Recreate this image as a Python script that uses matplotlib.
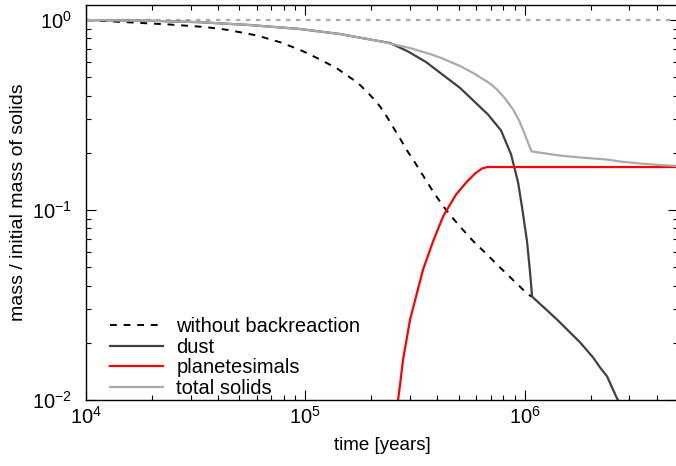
import numpy as np
import matplotlib.pyplot as plt
from matplotlib.ticker import LogLocator, FuncFormatter, NullFormatter

plt.rcParams['font.family'] = ['Liberation Sans', 'DejaVu Sans']
plt.rcParams['mathtext.fontset'] = 'custom'
plt.rcParams['mathtext.rm'] = 'Liberation Sans'
plt.rcParams['mathtext.default'] = 'regular'

#--data--
t_nobr = [1e4, 1.638e4, 2.415e4, 3.488e4, 4.44e4, 6.024e4, 7.83e4, 9.76e4, 1.167e5, 1.395e5,
          1.650e5, 1.776e5, 1.911e5, 2.057e5, 2.191e5, 2.358e5, 2.511e5, 2.703e5, 2.909e5,
          3.098e5, 3.441e5, 3.821e5, 4.245e5, 4.716e5, 5.238e5, 5.816e5, 6.738e5, 7.724e5,
          8.948e5, 1.036e6, 1.081e6]
m_nobr = [1.0, 0.970, 0.947, 0.919, 0.887, 0.829, 0.759, 0.685, 0.620, 0.556,
          0.486, 0.455, 0.419, 0.3825, 0.3505, 0.3087, 0.2734, 0.2378, 0.2056,
          0.1844, 0.1519, 0.1252, 0.105, 0.0902, 0.0785, 0.0687, 0.0583, 0.0498,
          0.0423, 0.0359, 0.0350]

t_dust = [1e4, 1.958e4, 3.31e4, 5.595e4, 9.46e4, 1.439e5, 2.191e5, 2.434e5, 2.94e5, 3.551e5,
          5.076e5, 6.809e5, 7.806e5, 8.67e5, 9.332e5, 9.73e5, 1.025e6, 1.058e6, 1.081e6,
          1.239e6, 1.405e6, 1.611e6, 1.789e6, 2.051e6, 2.207e6, 2.376e6, 2.503e6, 2.638e6,
          2.666e6]
m_dust = [1.0, 0.9915, 0.974, 0.941, 0.897, 0.844, 0.773, 0.757, 0.683, 0.601,
          0.439, 0.318, 0.262, 0.196, 0.1396, 0.1031, 0.0683, 0.0469, 0.0350,
          0.0303, 0.0265, 0.02266, 0.0201, 0.01674, 0.01483, 0.0133, 0.01163, 0.01018,
          0.0100]

t_plan = [2.647e5, 2.703e5, 2.789e5, 2.879e5, 3.002e5, 3.232e5, 3.441e5, 3.821e5, 4.245e5,
          4.428e5, 4.867e5, 5.463e5, 5.939e5, 6.393e5, 6.738e5, 5e6]
m_plan = [0.0100, 0.01207, 0.01633, 0.0201, 0.0265, 0.0368, 0.0486, 0.0683, 0.0924,
          0.1006, 0.1207, 0.1413, 0.1556, 0.1654, 0.1684, 0.1684]

t_total = [1e4, 1.958e4, 3.31e4, 5.595e4, 9.46e4, 1.439e5, 2.191e5, 3.002e5, 3.703e5, 4.114e5,
           5.076e5, 5.816e5, 6.953e5, 7.486e5, 8.139e5, 8.854e5, 9.43e5, 9.937e5, 1.036e6,
           1.070e6, 1.081e6, 1.45e6, 1.789e6, 2.376e6, 2.723e6, 3.36e6, 4.145e6, 5e6]
m_total = [1.0, 0.9915, 0.974, 0.941, 0.897, 0.844, 0.773, 0.712, 0.6625, 0.635,
           0.5726, 0.527, 0.463, 0.4307, 0.3862, 0.338, 0.2958, 0.2558, 0.2266,
           0.2056, 0.2032, 0.1935, 0.189, 0.1844, 0.180, 0.1757, 0.1725, 0.1705]

labels = ['without backreaction', 'dust', 'planetesimals', 'total solids']

fig = plt.figure(figsize=(6.76, 4.66), dpi=100)
ax = fig.add_axes([86/676, 66/466, 592/676, 395/466])

ax.axhline(1.0, color='#aaaaaa', lw=1.6, ls=(0, (2, 2.5)))
ax.plot(t_nobr, m_nobr, color='black', lw=1.4, ls=(0, (3.5, 3.5)), label=labels[0])
ax.plot(t_dust, m_dust, color='#404040', lw=1.6, label=labels[1])
ax.plot(t_plan, m_plan, color='#ff0000', lw=1.6, label=labels[2])
ax.plot(t_total, m_total, color='#aaaaaa', lw=1.6, label=labels[3])

ax.set_xscale('log')
ax.set_yscale('log')
ax.set_xlim(1e4, 5e6)
ax.set_ylim(1e-2, 1.2)

fmt = FuncFormatter(lambda v, p: '$10^{%d}$' % int(round(np.log10(v))))
ax.xaxis.set_major_locator(LogLocator(base=10, numticks=10))
ax.yaxis.set_major_locator(LogLocator(base=10, numticks=10))
ax.xaxis.set_major_formatter(fmt)
ax.yaxis.set_major_formatter(fmt)
ax.xaxis.set_minor_formatter(NullFormatter())
ax.yaxis.set_minor_formatter(NullFormatter())
ax.tick_params(which='both', direction='in', top=True, right=True, labelsize=14.5, width=0.8)
ax.tick_params(which='major', length=7)
ax.tick_params(which='minor', length=3.5)
ax.tick_params(axis='x', which='major', pad=4)
ax.tick_params(axis='y', which='major', pad=10)
for s in ax.spines.values():
    s.set_linewidth(1.0)

ax.set_xlabel('time [years]', fontsize=13.5, va='top')
ax.set_ylabel('mass / initial mass of solids', fontsize=14)
ax.xaxis.set_label_coords(0.5, -37/395)
ax.yaxis.set_label_coords(-59/592, 0.5)

ax.legend(loc='lower left', bbox_to_anchor=(24/592, 2/395), frameon=False, fontsize=14.5,
          borderpad=0, borderaxespad=0, handlelength=2.64, handletextpad=0.65,
          labelspacing=0.08)

fig.savefig('out.png', dpi=100)
